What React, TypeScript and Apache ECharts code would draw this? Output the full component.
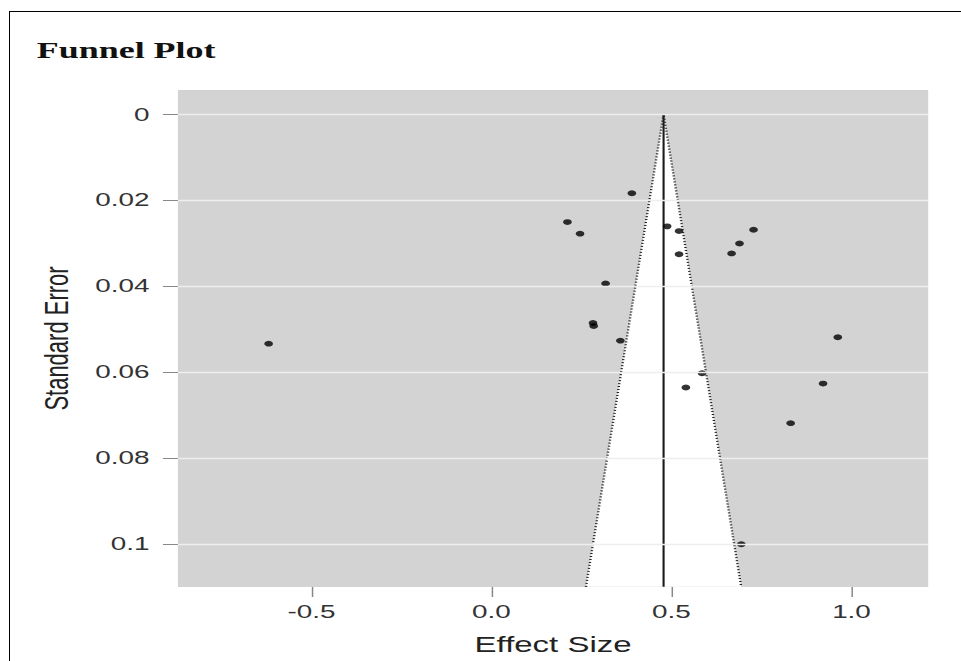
import React, { useEffect, useRef } from "react";
import * as echarts from "echarts";

// ---- data ----
const effectSizes = [
  0.39, 0.211, 0.246, 0.488, 0.521, 0.728, 0.689, 0.667, 0.521, 0.317,
  0.282, 0.284, 0.358, 0.962, 0.585, 0.54, 0.921, 0.831, 0.694, -0.619,
];
const standardErrors = [
  0.0184, 0.0251, 0.0278, 0.0261, 0.0272, 0.0269, 0.0301, 0.0324, 0.0326, 0.0394,
  0.0486, 0.0493, 0.0527, 0.0519, 0.0603, 0.0636, 0.0627, 0.0719, 0.1001, 0.0534,
];
const summaryEffect = 0.478;
const funnelBottomSE = 0.11;
const zCrit = 1.96;

const xTickValues = [-0.5, 0, 0.5, 1.0];
const xTickLabels = ["-0.5", "0.0", "0.5", "1.0"];
const yTickValues = [0, 0.02, 0.04, 0.06, 0.08, 0.1];
const yTickLabels = ["0", "0.02", "0.04", "0.06", "0.08", "0.1"];

const xRange = [-0.871, 1.213];
const yRange = [-0.00564, 0.11004];

// the reference is horizontally stretched
const STRETCH = 1.499;

function labelFor(values: number[], labels: string[]) {
  return (v: number) => {
    let best = 0;
    for (let i = 1; i < values.length; i++) {
      if (Math.abs(values[i] - v) < Math.abs(values[best] - v)) best = i;
    }
    return labels[best];
  };
}

export default function App() {
  const ref = useRef<HTMLDivElement>(null);

  useEffect(() => {
    if (!ref.current) return;
    const chart = echarts.init(ref.current, undefined, { renderer: "svg" });

    const points = effectSizes.map((e, i) => [e, standardErrors[i]]);
    const lo = summaryEffect - zCrit * funnelBottomSE;
    const hi = summaryEffect + zCrit * funnelBottomSE;

    chart.setOption({
      animation: false,
      backgroundColor: "transparent",
      title: {
        text: "Funnel Plot",
        left: 24.5,
        top: 38,
        padding: 0,
        textStyle: {
          fontFamily: "Liberation Serif",
          fontWeight: "bold",
          fontSize: 24,
          color: "#111111",
        },
      },
      grid: {
        left: 118.7,
        right: 21.8,
        top: 90,
        bottom: 73,
        show: true,
        backgroundColor: "#d3d3d3",
        borderWidth: 0,
      },
      xAxis: {
        type: "value",
        position: "bottom",
        min: xRange[0],
        max: xRange[1],
        name: "Effect Size",
        nameLocation: "middle",
        nameGap: 47,
        nameTextStyle: { fontFamily: "Liberation Sans", fontSize: 22, color: "#222222" },
        axisLine: { show: false, onZero: false },
        splitLine: { show: false },
        axisTick: {
          show: true,
          length: 10,
          customValues: xTickValues,
          lineStyle: { color: "#888888", width: 1 },
        },
        axisLabel: {
          customValues: xTickValues,
          formatter: labelFor(xTickValues, xTickLabels),
          fontFamily: "Liberation Sans",
          fontSize: 18.6,
          color: "#333333",
          margin: 15,
        },
      },
      yAxis: {
        type: "value",
        position: "left",
        inverse: true,
        min: yRange[0],
        max: yRange[1],
        name: "Standard Error",
        nameLocation: "middle",
        nameRotate: 90,
        nameGap: 70,
        nameTextStyle: { fontFamily: "Liberation Sans", fontSize: 22, color: "#222222" },
        axisLine: { show: false, onZero: false },
        splitLine: { show: false },
        axisTick: {
          show: true,
          length: 10,
          customValues: yTickValues,
          lineStyle: { color: "#888888", width: 1 },
        },
        axisLabel: {
          customValues: yTickValues,
          formatter: labelFor(yTickValues, yTickLabels),
          fontFamily: "Liberation Sans",
          fontSize: 18.6,
          color: "#333333",
          margin: 19,
        },
      },
      series: [
        {
          type: "line",
          data: [],
          z: 1,
          silent: true,
          markLine: {
            silent: true,
            symbol: ["none", "none"],
            label: { show: false },
            lineStyle: { color: "#eeeeee", width: 1.4, type: "solid" },
            data: yTickValues.map((v) => ({ yAxis: v })),
          },
        },
        {
          type: "custom",
          z: 2,
          silent: true,
          data: [[summaryEffect, 0]],
          renderItem: (_params: any, api: any) => {
            const apex = api.coord([summaryEffect, 0]);
            const bl = api.coord([lo, funnelBottomSE]);
            const br = api.coord([hi, funnelBottomSE]);
            return {
              type: "polygon",
              shape: { points: [apex, bl, br] },
              style: { fill: "#ffffff" },
            };
          },
        },
        {
          type: "line",
          z: 3,
          silent: true,
          showSymbol: false,
          data: [
            [lo, funnelBottomSE],
            [summaryEffect, 0],
            [hi, funnelBottomSE],
          ],
          lineStyle: { color: "#222222", width: 1.6, type: [1, 2] },
        },
        {
          type: "line",
          z: 3,
          silent: true,
          showSymbol: false,
          data: [
            [summaryEffect, 0],
            [summaryEffect, funnelBottomSE],
          ],
          lineStyle: { color: "#1a1a1a", width: 1.4, type: "solid" },
        },
        {
          type: "scatter",
          z: 4,
          symbol: "circle",
          symbolSize: [5.8, 5.8],
          itemStyle: { color: "#000000" },
          data: points,
        },
      ],
    });

    return () => chart.dispose();
  }, []);

  return (
    <div
      style={{
        position: "fixed",
        left: 0,
        top: 0,
        width: 961,
        height: 661,
        overflow: "hidden",
        background: "#ffffff",
      }}
    >
      <div
        style={{
          position: "absolute",
          left: 9,
          top: 11,
          width: 1000,
          height: 700,
          borderTop: "1.5px solid #000",
          borderLeft: "1.5px solid #000",
        }}
      />
      <div
        ref={ref}
        style={{
          position: "absolute",
          left: 0,
          top: 0,
          width: 641,
          height: 661,
          transform: `scaleX(${STRETCH})`,
          transformOrigin: "0 0",
        }}
      />
    </div>
  );
}
